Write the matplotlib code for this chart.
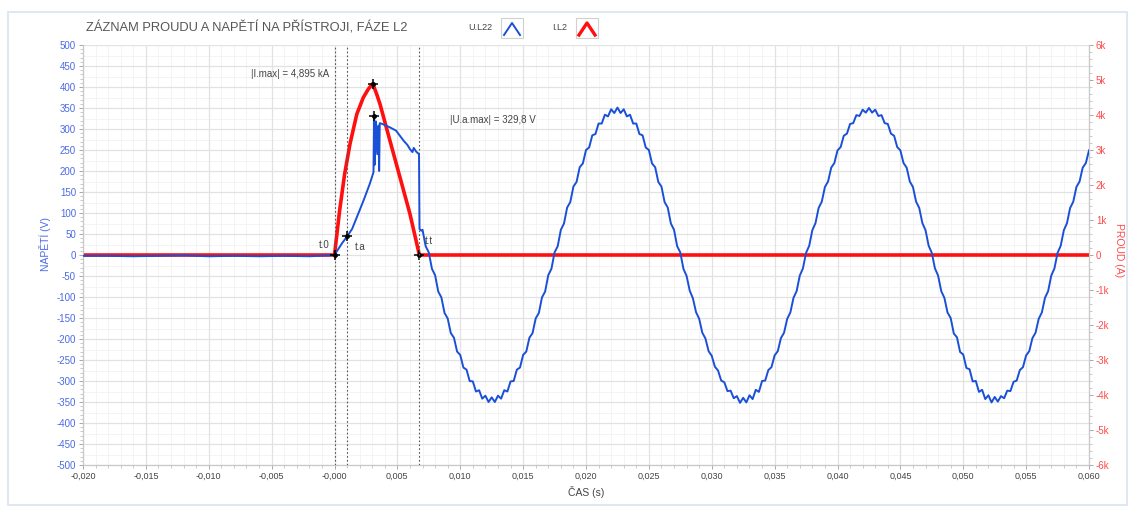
import numpy as np
import matplotlib
matplotlib.use("Agg")
import matplotlib.pyplot as plt
from matplotlib.ticker import MultipleLocator
from matplotlib.lines import Line2D
from matplotlib.patches import Rectangle

# ---------------- data ----------------
x_ticks = [-0.020, -0.015, -0.010, -0.005, 0.000, 0.005, 0.010, 0.015, 0.020,
           0.025, 0.030, 0.035, 0.040, 0.045, 0.050, 0.055, 0.060]
x_tick_labels = ["-0,020", "-0,015", "-0,010", "-0,005", "-0,000", "0,005", "0,010",
                 "0,015", "0,020", "0,025", "0,030", "0,035", "0,040", "0,045",
                 "0,050", "0,055", "0,060"]
u_ticks = list(range(-500, 501, 50))
i_ticks = [-6000, -5000, -4000, -3000, -2000, -1000, 0, 1000, 2000, 3000, 4000, 5000, 6000]
i_tick_labels = ["-6k", "-5k", "-4k", "-3k", "-2k", "-1k", "0", "1k", "2k", "3k", "4k", "5k", "6k"]

# voltage before the fault
t_pre = [-0.020, -0.018, -0.016, -0.014, -0.012, -0.010, -0.008, -0.006, -0.004, -0.002, -0.0005]
u_pre = [-2, -2, -3, -2, -1, -3, -2, -3, -2, -3, -1]

# voltage during the switching transient
t_trans = [0.0000, 0.0003, 0.0006, 0.00102, 0.0014, 0.0018, 0.0023, 0.0028, 0.0031,
           0.00315, 0.0032, 0.0033, 0.0034, 0.0035, 0.00355, 0.0036, 0.0038, 0.0044,
           0.0049, 0.0055, 0.0058, 0.0060, 0.0062, 0.0063, 0.0065, 0.00672, 0.00676, 0.0069]
u_trans = [0, 14, 28, 45, 62, 92, 129, 169, 197,
           331, 215, 318, 240, 308, 200, 314, 312, 304,
           296, 272, 262, 252, 245, 255, 246, 240, 62, 58]

# voltage after interruption (sampled every 0.25 ms from 7.0 ms)
t_sine_start = 0.0070
t_sine_step = 0.00025
u_sine = [60, 21, 6,
          -33, -48, -87, -101, -138, -151, -186, -197, -230, -238, -268, -273, -300, -301, -325, -322, -342, -335, -350, -339,
          -350, -335, -342, -322, -325, -301, -300, -273, -268, -238, -230, -197, -186, -151, -138, -101, -87, -48, -33, 6,
          21, 60, 75, 113, 126, 163, 174, 209, 218, 250, 256, 285, 288, 313, 313, 334, 330, 347, 338, 351,
          338, 347, 330, 334, 313, 313, 288, 285, 256, 250, 218, 209, 174, 163, 126, 113, 75, 60, 21, 6,
          -33, -50, -85, -103, -136, -152, -185, -199, -229, -240, -266, -275, -299, -303, -324, -323, -341, -336, -352, -340,
          -351, -334, -343, -321, -326, -300, -299, -274, -267, -239, -229, -198, -185, -152, -137, -102, -86, -49, -32, 5,
          22, 59, 76, 112, 127, 162, 175, 208, 219, 249, 257, 284, 289, 312, 314, 333, 331, 346, 339, 350,
          339, 346, 331, 333, 314, 312, 289, 284, 257, 249, 219, 208, 175, 162, 127, 112, 76, 59, 22, 5,
          -32, -49, -86, -102, -137, -150, -187, -196, -231, -237, -269, -272, -301, -300, -326, -321, -343, -334, -351, -338,
          -349, -336, -341, -323, -324, -302, -299, -274, -267, -239, -229, -198, -185, -152, -137, -102, -86, -49, -32, 5,
          22, 59, 76, 112, 127, 162, 175, 208, 219, 249]

# current
t_cur = [-0.020, 0.0000, 0.0004, 0.0008, 0.00123, 0.00177, 0.00229, 0.00269, 0.00304, 0.00336,
         0.00362, 0.00441, 0.00521, 0.0060, 0.00675, 0.060]
i_cur = [0, 0, 1250, 2300, 3170, 4020, 4500, 4740, 4895, 4590,
         4310, 3265, 2216, 1174, 0, 0]

# cursors
cursor_t = [0.0, 0.00102, 0.00675]
u_marks_t = [0.0, 0.00102, 0.00317]
u_marks_v = [0, 45, 331]
i_marks_t = [0.00304, 0.00675]
i_marks_v = [4895, 0]

# ---------------- style ----------------
BLUE = "#1a4fd8"
RED = "#ff1010"
BLUE_TXT = "#4a6ae6"
RED_TXT = "#ff4a4a"
GRAY_TXT = "#444444"
SANS = ["Liberation Sans", "DejaVu Sans"]

W, H = 1128, 508
fig = plt.figure(figsize=(W / 100, H / 100), dpi=100)
fig.patch.set_facecolor("white")

def fx(px):
    return px / W

def fy(py):
    return 1 - py / H

# frame
fig.patches.append(Rectangle((fx(8), fy(505)), fx(1127) - fx(8), fy(12) - fy(505),
                             transform=fig.transFigure, fill=False,
                             edgecolor="#d8e3f0", lw=1.2))

L, R, T, B = 83, 1089, 45, 465
pos = [fx(L), fy(B), fx(R) - fx(L), fy(T) - fy(B)]
ax = fig.add_axes(pos)
ax2 = ax.twinx()
ax3 = fig.add_axes(pos, sharex=ax, sharey=ax)
ax.set_zorder(1)
ax2.set_zorder(2)
ax3.set_zorder(3)
ax2.patch.set_visible(False)
ax3.patch.set_visible(False)
ax3.axis("off")

ax.set_xlim(-0.020, 0.060)
ax.set_ylim(-500, 500)
ax2.set_ylim(-6000, 6000)

# grid
for v in np.arange(-475, 500, 50):
    ax.axhline(v, color="#f3f3f3", lw=0.6, zorder=0)
for t in np.arange(-0.020, 0.0601, 0.001):
    ax.axvline(t, color="#f3f3f3", lw=0.6, zorder=0)
ax.grid(which="major", color="#e2e2e2", lw=0.9, zorder=0.5)
ax.set_axisbelow(True)

# ticks
ax.set_xticks(x_ticks)
ax.set_xticklabels(x_tick_labels, family=SANS, fontsize=6.5, color=GRAY_TXT)
ax.xaxis.set_minor_locator(MultipleLocator(0.001))
ax.set_yticks(u_ticks)
ax.set_yticklabels([str(v) for v in u_ticks], family=SANS, fontsize=7, color=BLUE_TXT)
ax.yaxis.set_minor_locator(MultipleLocator(10))
ax2.set_yticks(i_ticks)
ax2.set_yticklabels(i_tick_labels, family=SANS, fontsize=7, color=RED_TXT)
ax2.yaxis.set_minor_locator(MultipleLocator(200))

for a in (ax, ax2):
    a.tick_params(which="major", length=3, width=0.6, color="#9a9a9a", pad=2)
    a.tick_params(which="minor", length=2, width=0.5, color="#b5b5b5")
    for s in a.spines.values():
        s.set_color("#c8c8c8")
        s.set_linewidth(0.8)
ax.spines["top"].set_visible(False)
ax2.spines["top"].set_visible(False)

# data
ax2.plot(t_cur, i_cur, color=RED, lw=2.6, solid_joinstyle="round", zorder=2)

t_sine = t_sine_start + t_sine_step * np.arange(len(u_sine))
t_u = np.concatenate([t_pre, t_trans, t_sine])
u_all = np.concatenate([u_pre, u_trans, u_sine])
ax3.plot(t_u, u_all, color=BLUE, lw=1.4, zorder=3)

# cursor lines
for t in cursor_t:
    ax3.axvline(t, color="#555555", lw=0.8, ls=(0, (1.5, 2)), zorder=2)

# markers
for a, mt, mv in ((ax3, u_marks_t, u_marks_v), (ax2, i_marks_t, i_marks_v)):
    a.plot(mt, mv, ls="none", marker="+", ms=7, mew=1.1, color="black", zorder=5)
    a.plot(mt, mv, ls="none", marker="o", ms=2.5, color="black", zorder=5)

# annotations
ann = dict(family=SANS, fontsize=7, color=GRAY_TXT, zorder=6)
ax3.text(-0.0004, 23, "t.0", ha="right", va="center", **ann)
ax3.text(0.00165, 18, "t.a", ha="left", va="center", **ann)
ax3.text(0.0072, 34, "t.t", ha="left", va="center", **ann)
ax3.text(-0.00666, 432, "|I.max| = 4,895 kA", ha="left", va="center", **ann)
ax3.text(0.00918, 321, "|U.a.max| = 329,8 V", ha="left", va="center", **ann)

# axis labels
fig.text(fx(45), fy(244), "NAPĚTÍ (V)", rotation=90, ha="center", va="center",
         family=SANS, fontsize=7.5, color=BLUE_TXT)
fig.text(fx(1119), fy(250), "PROUD (A)", rotation=-90, ha="center", va="center",
         family=SANS, fontsize=7.5, color=RED_TXT)
fig.text(fx(586), fy(492), "ČAS (s)", ha="center", va="center",
         family=SANS, fontsize=7.5, color=GRAY_TXT)

# title
fig.text(fx(86), fy(28), "ZÁZNAM PROUDU A NAPĚTÍ NA PŘÍSTROJI, FÁZE L2", ha="left", va="center",
         family=SANS, fontsize=9.3, color="#555555")

# legend
fig.text(fx(468), fy(28), "U.L22", ha="left", va="center", family=SANS, fontsize=6.5, color=GRAY_TXT)
fig.text(fx(552), fy(28), "I.L2", ha="left", va="center", family=SANS, fontsize=6.5, color=GRAY_TXT)
for x0, col, lw in ((501, BLUE, 1.4), (576, RED, 2.4)):
    fig.patches.append(Rectangle((fx(x0), fy(38)), fx(22), fy(18) - fy(38),
                                 transform=fig.transFigure, facecolor="white",
                                 edgecolor="#d0d0d0", lw=0.8))
    fig.lines.append(Line2D([fx(x0 + 3), fx(x0 + 11), fx(x0 + 19)], [fy(35), fy(23), fy(35)],
                            transform=fig.transFigure, color=col, lw=lw))

fig.savefig("out.png", dpi=100)
